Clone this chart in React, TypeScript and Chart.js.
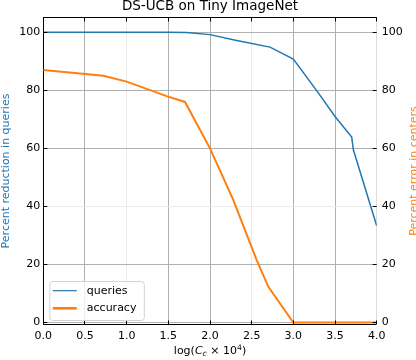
import React, { useEffect, useRef } from "react";
import { Chart, registerables } from "chart.js";

Chart.register(...registerables);

const chartTitle = "DS-UCB on Tiny ImageNet";
const leftAxisTitle = "Percent reduction in queries";
const rightAxisTitle = "Percent error in centers";
const seriesNames = ["queries", "accuracy"];
const xTicks = [0, 0.5, 1.0, 1.5, 2.0, 2.5, 3.0, 3.5, 4.0];
const yTicks = [0, 20, 40, 60, 80, 100];
const lightXGrid = [1.0, 2.5];
const lightYGrid = [40];

const queriesX = [0, 0.5, 1.0, 1.5, 1.72, 2.0, 2.32, 2.72, 3.0, 3.28, 3.5, 3.7, 3.72, 4.0];
const queriesY = [100, 100, 100, 100, 99.9, 99.2, 97.2, 94.9, 90.8, 79.9, 71.0, 63.9, 59.5, 33.3];
const accuracyX = [0, 0.72, 1.0, 1.48, 1.7, 2.0, 2.28, 2.56, 2.7, 3.0, 3.5, 4.0];
const accuracyY = [87.0, 85.0, 83.0, 78.0, 76.0, 60.0, 42.2, 21.5, 12.3, 0, 0, 0];

const xTitleParts = [
  { t: "log(", italic: false, small: false, dy: 0 },
  { t: "C", italic: true, small: false, dy: 0 },
  { t: "c", italic: true, small: true, dy: 2.2 },
  { t: " \u00d7 10", italic: false, small: false, dy: 0 },
  { t: "4", italic: false, small: true, dy: -4.5 },
  { t: ")", italic: false, small: false, dy: 0 },
];

const BLUE = "#1f77b4";
const ORANGE = "#ff7f0e";
const FAMILY = "'DejaVu Sans'";

const align = (v: number) => Math.round(v - 0.5) + 0.5;

const decorPlugin = {
  id: "decor",
  afterDatasetsDraw(chart: any) {
    const { ctx, chartArea } = chart;
    const { left, right, top, bottom } = chartArea;
    const xs = chart.scales.x;
    const ys = chart.scales.y;
    ctx.save();
    // top spine
    ctx.strokeStyle = "#000";
    ctx.lineWidth = 1;
    ctx.beginPath();
    ctx.moveTo(left, align(top));
    ctx.lineTo(right, align(top));
    ctx.stroke();
    // inward ticks
    const L = 4;
    ctx.beginPath();
    yTicks.forEach((v) => {
      const py = align(ys.getPixelForValue(v));
      ctx.moveTo(left, py);
      ctx.lineTo(left + L, py);
      ctx.moveTo(right - L, py);
      ctx.lineTo(right, py);
    });
    xTicks.forEach((v) => {
      const px = align(xs.getPixelForValue(v));
      ctx.moveTo(px, bottom);
      ctx.lineTo(px, bottom - L);
      ctx.moveTo(px, top);
      ctx.lineTo(px, top + L);
    });
    ctx.stroke();

    // legend
    const bx = left + 6;
    const by = bottom - 43.5;
    const bw = 94.5;
    const bh = 39;
    ctx.beginPath();
    (ctx as any).roundRect(bx + 0.5, by + 0.5, bw, bh, 3);
    ctx.fillStyle = "rgba(255,255,255,0.8)";
    ctx.fill();
    ctx.strokeStyle = "#d3d3d3";
    ctx.lineWidth = 1;
    ctx.stroke();
    const items = [
      { name: seriesNames[0], color: BLUE, w: 1.2, y: by + 9.7 },
      { name: seriesNames[1], color: ORANGE, w: 2.6, y: by + 27.3 },
    ];
    items.forEach((it) => {
      ctx.strokeStyle = it.color;
      ctx.lineWidth = it.w;
      ctx.beginPath();
      ctx.moveTo(bx + 3.5, it.y);
      ctx.lineTo(bx + 27.5, it.y);
      ctx.stroke();
      ctx.fillStyle = "#000";
      ctx.font = `11px ${FAMILY}`;
      ctx.textAlign = "left";
      ctx.textBaseline = "middle";
      ctx.fillText(it.name, bx + 37.5, it.y);
    });
    ctx.restore();
  },
  afterDraw(chart: any) {
    const { ctx, chartArea } = chart;
    const { left, right, top, bottom } = chartArea;
    const cx = (left + right) / 2;
    const cy = (top + bottom) / 2;
    ctx.save();
    // title
    ctx.fillStyle = "#000";
    ctx.font = `13.5px ${FAMILY}`;
    ctx.textAlign = "center";
    ctx.textBaseline = "alphabetic";
    ctx.fillText(chartTitle, cx, 10);

    // x axis title (rich)
    const fontFor = (p: any) =>
      `${p.italic ? "italic " : ""}${p.small ? 7.7 : 11}px ${FAMILY}`;
    let total = 0;
    const widths = xTitleParts.map((p) => {
      ctx.font = fontFor(p);
      const w = ctx.measureText(p.t).width;
      total += w;
      return w;
    });
    let x = cx - total / 2;
    ctx.textAlign = "left";
    xTitleParts.forEach((p, i) => {
      ctx.font = fontFor(p);
      ctx.fillText(p.t, x, 354 + p.dy);
      x += widths[i];
    });

    // left axis title
    ctx.font = `11px ${FAMILY}`;
    ctx.textAlign = "center";
    ctx.fillStyle = BLUE;
    ctx.save();
    ctx.translate(9, cy);
    ctx.rotate(-Math.PI / 2);
    ctx.fillText(leftAxisTitle, 0, 0);
    ctx.restore();

    // right axis title
    ctx.fillStyle = ORANGE;
    ctx.save();
    ctx.translate(417, cy);
    ctx.rotate(-Math.PI / 2);
    ctx.fillText(rightAxisTitle, 0, 0);
    ctx.restore();
    ctx.restore();
  },
};

export default function App() {
  const ref = useRef<HTMLCanvasElement | null>(null);
  useEffect(() => {
    if (!ref.current) return;
    Chart.defaults.font.family = FAMILY;
    const tickFont = { size: 11, family: FAMILY };
    const setTicks = (arr: number[]) => (s: any) => {
      s.ticks = arr.map((v) => ({ value: v }));
    };
    const chart = new Chart(ref.current, {
      type: "line",
      data: {
        datasets: [
          {
            label: seriesNames[0],
            data: queriesX.map((x, i) => ({ x, y: queriesY[i] })),
            borderColor: BLUE,
            backgroundColor: BLUE,
            borderWidth: 1.5,
            pointRadius: 0,
            tension: 0,
            yAxisID: "y",
          },
          {
            label: seriesNames[1],
            data: accuracyX.map((x, i) => ({ x, y: accuracyY[i] })),
            borderColor: ORANGE,
            backgroundColor: ORANGE,
            borderWidth: 2,
            pointRadius: 0,
            tension: 0,
            yAxisID: "y1",
          },
        ],
      },
      options: {
        animation: false,
        responsive: false,
        maintainAspectRatio: false,
        devicePixelRatio: 1,
        layout: { padding: { top: 17.5, left: 0, right: 0, bottom: 0 } },
        plugins: {
          legend: { display: false },
          title: { display: false },
          tooltip: { enabled: false },
        },
        scales: {
          x: {
            type: "linear",
            min: 0,
            max: 4,
            afterBuildTicks: setTicks(xTicks),
            afterFit: (s: any) => {
              s.height = 35.5;
            },
            ticks: {
              font: tickFont,
              color: "#000",
              padding: 5,
              maxRotation: 0,
              autoSkip: false,
              callback: (v: any) => Number(v).toFixed(1),
            },
            grid: {
              drawTicks: false,
              lineWidth: 1,
              color: (c: any) =>
                c.tick && lightXGrid.includes(c.tick.value) ? "#ebebeb" : "#b0b0b0",
            },
            border: { color: "#000", width: 1 },
          },
          y: {
            type: "linear",
            position: "left",
            min: -0.7,
            max: 105.1,
            afterBuildTicks: setTicks(yTicks),
            afterFit: (s: any) => {
              s.width = 43.3;
            },
            ticks: { font: tickFont, color: "#000", padding: 3, autoSkip: false },
            grid: {
              drawTicks: false,
              lineWidth: 1,
              color: (c: any) =>
                c.tick && lightYGrid.includes(c.tick.value) ? "#ebebeb" : "#b0b0b0",
            },
            border: { color: "#000", width: 1 },
          },
          y1: {
            type: "linear",
            position: "right",
            min: -0.7,
            max: 105.1,
            afterBuildTicks: setTicks(yTicks),
            afterFit: (s: any) => {
              s.width = 39.3;
            },
            ticks: { font: tickFont, color: "#000", padding: 5, autoSkip: false },
            grid: { drawTicks: false, drawOnChartArea: false },
            border: { color: "#dcdcdc", width: 1 },
          },
        },
      },
      plugins: [decorPlugin],
    } as any);
    return () => chart.destroy();
  }, []);
  return (
    <div style={{ position: "fixed", left: 0, top: 0, width: 416, height: 360, background: "#fff" }}>
      <canvas ref={ref} width={416} height={360} style={{ display: "block" }} />
    </div>
  );
}
